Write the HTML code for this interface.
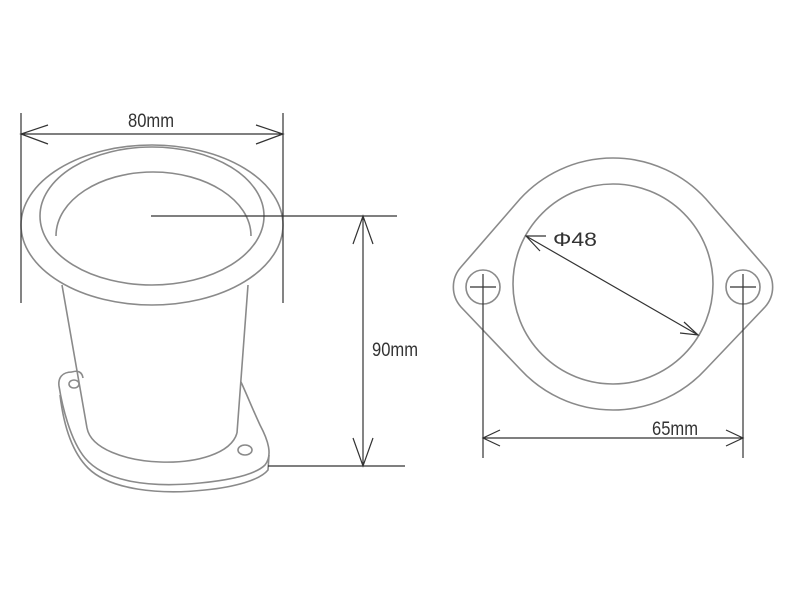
<!DOCTYPE html>
<html><head><style>body{margin:0;background:#fff}svg{display:block}</style></head>
<body>
<svg width="800" height="600" viewBox="0 0 800 600" xmlns="http://www.w3.org/2000/svg">
<g fill="none" stroke="#8a8a8a" stroke-width="1.6">
 <!-- left part -->
 <path d="M62,285 L87,428 M248,285 L237,433"/>
 <path d="M87,428 C95,470 225,475 237,433"/>
 <!-- flange -->
 <path d="M72,372 C62,372 58,378 59,386 C62,405 70,440 85,458 C105,482 150,488 200,483 C230,480 255,475 265,465 C273,455 268,440 260,425 C253,410 247,395 241,382"/>
 <path d="M60,395 C63,420 70,450 88,468 C110,490 160,495 205,490 C235,487 260,480 268,470 L269,455"/>
 <path d="M72,372 C78,370 82,372 83,378"/>
 <ellipse cx="74" cy="384" rx="5" ry="4"/>
 <ellipse cx="245" cy="450" rx="7" ry="5"/>
 <ellipse cx="152" cy="225" rx="131" ry="80" fill="#fff"/>
 <ellipse cx="152" cy="216" rx="112" ry="69"/>
 <path d="M56,236 C56,200 100,172 153,172 C206,172 251,200 251,236"/>
 <!-- right flange -->
 <path d="M520,199 A126,126 0 0 1 706,199 L765,267 A30,30 0 0 1 765,307 L706,369 A126,126 0 0 1 520,369 L461,307 A30,30 0 0 1 461,267 Z"/>
 <circle cx="613" cy="284" r="100"/>
 <circle cx="483" cy="287" r="17"/>
 <circle cx="743" cy="287" r="17"/>
</g>
<g fill="none" stroke="#333" stroke-width="1.2">
 <path d="M21,113 V303 M283,113 V303 M21,134 H283 M48,125 L21,134 L48,144 M256,125 L283,134 L256,144"/>
 <path d="M151,216 H397 M268,466 H405 M363,216 V466 M353,244 L363,216 L373,244 M353,438 L363,466 L373,438"/>
 <path d="M483,274 V458 M743,274 V458 M470,287 H496 M730,287 H756 M483,438 H743 M500,430 L483,438 L500,446 M726,430 L743,438 L726,446"/>
 <path d="M526,236 L698,335 M546,236 L526,236 L540,251 M684,322 L698,335 L680,333"/>
</g>
<g font-family="Liberation Sans, sans-serif" font-size="19" fill="#333">
 <text x="128" y="127" textLength="46" lengthAdjust="spacingAndGlyphs">80mm</text>
 <text x="372" y="356" textLength="46" lengthAdjust="spacingAndGlyphs">90mm</text>
 <text x="652" y="435" textLength="46" lengthAdjust="spacingAndGlyphs">65mm</text>
 <text x="553" y="246" textLength="44" lengthAdjust="spacingAndGlyphs">Φ48</text>
</g>
</svg>
</body></html>
